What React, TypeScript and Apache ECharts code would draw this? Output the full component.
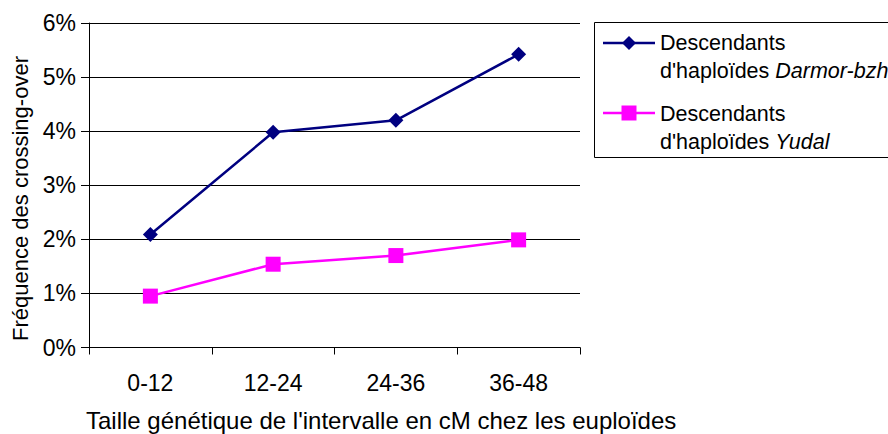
import React, { useEffect, useRef } from "react";
import * as echarts from "echarts";

const categories = ["0-12", "12-24", "24-36", "36-48"];
const darmorValues = [2.09, 3.98, 4.2, 5.42];
const yudalValues = [0.95, 1.54, 1.7, 1.99];
const yTicks = [0, 1, 2, 3, 4, 5, 6];
const seriesNames = ["Descendants d'haploïdes Darmor-bzh", "Descendants d'haploïdes Yudal"];

const FONT = "Liberation Sans, Arial, sans-serif";
const NAVY = "#000080";
const MAGENTA = "#FF00FF";
const LEG_FS = 21.5;

const legText = (text: string, x: number, y: number, italic?: string) => ({
  type: "text",
  x,
  y,
  style: {
    text: italic ? `{n|${text}}{i|${italic}}` : text,
    fontSize: LEG_FS,
    fontFamily: FONT,
    fill: "#000",
    align: "left",
    verticalAlign: "middle",
    rich: {
      n: { fontSize: LEG_FS, fontFamily: FONT, fill: "#000" },
      i: { fontSize: LEG_FS, fontFamily: FONT, fill: "#000", fontStyle: "italic" },
    },
  },
});

export default function App() {
  const ref = useRef<HTMLDivElement>(null);
  useEffect(() => {
    if (!ref.current) return;
    const chart = echarts.init(ref.current, undefined, { renderer: "svg" });
    chart.setOption({
      animation: false,
      backgroundColor: "#ffffff",
      textStyle: { fontFamily: FONT },
      grid: { left: 89, right: 308, top: 23, bottom: 86.5, containLabel: false },
      xAxis: {
        type: "category",
        data: categories,
        boundaryGap: true,
        axisLine: { lineStyle: { color: "#000", width: 1 } },
        axisTick: { show: true, length: 7, lineStyle: { color: "#000" } },
        axisLabel: { color: "#000", fontSize: 23, fontFamily: FONT, margin: 24 },
      },
      yAxis: {
        type: "value",
        min: yTicks[0],
        max: yTicks[yTicks.length - 1],
        interval: 1,
        axisLine: { show: true, lineStyle: { color: "#000", width: 1 } },
        axisTick: { show: true, length: 8, lineStyle: { color: "#000" } },
        axisLabel: { color: "#000", fontSize: 23, fontFamily: FONT, margin: 13, formatter: (v: number) => `${v}%` },
        splitLine: { show: true, lineStyle: { color: "#000", width: 1 } },
      },
      legend: { show: false },
      series: [
        {
          name: seriesNames[0],
          type: "line",
          data: darmorValues,
          symbol: "diamond",
          symbolSize: 15,
          lineStyle: { color: NAVY, width: 2.5 },
          itemStyle: { color: NAVY },
        },
        {
          name: seriesNames[1],
          type: "line",
          data: yudalValues,
          symbol: "rect",
          symbolSize: 15,
          lineStyle: { color: MAGENTA, width: 2.5 },
          itemStyle: { color: MAGENTA },
        },
      ],
      graphic: [
        {
          type: "text",
          x: 20.5,
          y: 198.5,
          rotation: Math.PI / 2,
          style: {
            text: "Fréquence des crossing-over",
            fontSize: 22,
            fontFamily: FONT,
            fill: "#000",
            align: "center",
            verticalAlign: "middle",
          },
        },
        {
          type: "text",
          x: 86,
          y: 420,
          style: {
            text: "Taille génétique de l'intervalle en cM chez les euploïdes",
            fontSize: 24,
            fontFamily: FONT,
            fill: "#000",
            align: "left",
            verticalAlign: "middle",
          },
        },
        {
          type: "rect",
          shape: { x: 594.5, y: 22.5, width: 310, height: 135 },
          style: { fill: "#fff", stroke: "#000", lineWidth: 1 },
        },
        {
          type: "line",
          shape: { x1: 603, y1: 43, x2: 655, y2: 43 },
          style: { stroke: NAVY, lineWidth: 2.5 },
        },
        {
          type: "polygon",
          shape: { points: [[629, 36], [636, 43], [629, 50], [622, 43]] },
          style: { fill: NAVY },
        },
        {
          type: "line",
          shape: { x1: 603, y1: 113, x2: 655, y2: 113 },
          style: { stroke: MAGENTA, lineWidth: 2.5 },
        },
        {
          type: "rect",
          shape: { x: 621.5, y: 105.5, width: 15, height: 15 },
          style: { fill: MAGENTA },
        },
        legText("Descendants", 660, 43.2),
        legText("d'haploïdes ", 660, 70.8, "Darmor-bzh"),
        legText("Descendants", 660, 114),
        legText("d'haploïdes ", 660, 141.5, "Yudal"),
      ],
    });
    return () => chart.dispose();
  }, []);
  return <div ref={ref} style={{ position: "absolute", left: 0, top: 0, width: 888, height: 434 }} />;
}
